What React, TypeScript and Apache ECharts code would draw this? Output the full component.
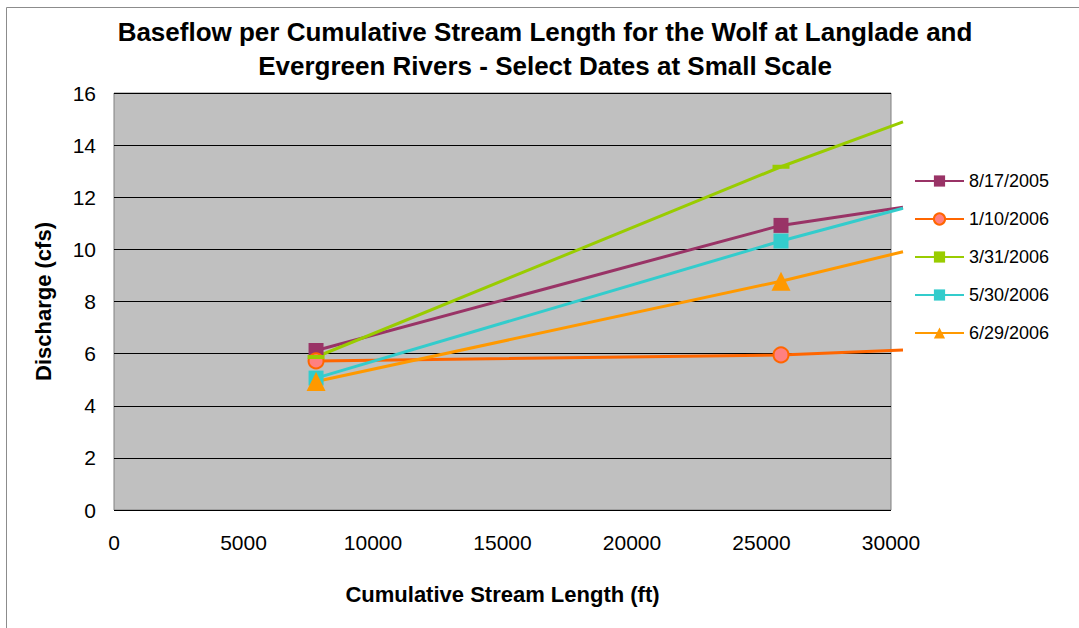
import React, { useEffect, useRef } from "react";
import * as echarts from "echarts";

const xValues = [7800, 25750, 30460];
const seriesNames = ["8/17/2005", "1/10/2006", "3/31/2006", "5/30/2006", "6/29/2006"];
const s0817 = [6.12, 10.92, 11.62];
const s0110 = [5.72, 5.95, 6.14];
const s0331 = [5.87, 13.17, 14.89];
const s0530 = [5.06, 10.32, 11.58];
const s0629 = [4.93, 8.78, 9.91];
const xTicks = [0, 5000, 10000, 15000, 20000, 25000, 30000];
const yTicks = [0, 2, 4, 6, 8, 10, 12, 14, 16];

const FONT = "'Liberation Sans', Arial, sans-serif";

function toData(vals: number[]) {
  return vals.map((v, i) =>
    i === xValues.length - 1
      ? { value: [xValues[i], v], symbol: "none" }
      : { value: [xValues[i], v] }
  );
}

export default function App() {
  const ref = useRef<HTMLDivElement>(null);
  useEffect(() => {
    if (!ref.current) return;
    const chart = echarts.init(ref.current, undefined, { renderer: "svg" });
    const styles = [
      { symbol: "rect", symbolSize: 15, color: "#993366", item: { color: "#993366" } },
      { symbol: "circle", symbolSize: 15, color: "#FF6600", item: { color: "#FF8080", borderColor: "#FF6600", borderWidth: 2 } },
      { symbol: "rect", symbolSize: [17, 4], color: "#99CC00", item: { color: "#99CC00" } },
      { symbol: "rect", symbolSize: 15, color: "#33CCCC", item: { color: "#33CCCC" } },
      { symbol: "triangle", symbolSize: 19, color: "#FF9900", item: { color: "#FF9900" } },
    ];
    const datas = [s0817, s0110, s0331, s0530, s0629];
    chart.setOption({
      animation: false,
      backgroundColor: "#ffffff",
      title: {
        text: "Baseflow per Cumulative Stream Length for the Wolf at Langlade and\nEvergreen Rivers - Select Dates at Small Scale",
        left: 545,
        top: 15,
        padding: 0,
        textAlign: "center",
        textStyle: { fontFamily: FONT, fontSize: 26, fontWeight: "bold", color: "#000", lineHeight: 34 },
      },
      legend: {
        orient: "vertical",
        left: 914,
        top: 172,
        padding: 0,
        itemWidth: 49,
        itemHeight: 14,
        itemGap: 20,
        textStyle: { fontFamily: FONT, fontSize: 18, color: "#000" },
        data: seriesNames,
      },
      graphic: [
        {
          type: "rect",
          shape: { x: 6.5, y: 7.5, width: 1100, height: 700 },
          style: { fill: "none", stroke: "#8c8c8c", lineWidth: 1 },
          silent: true,
        },
      ],
      grid: [
        {
          left: 114, right: 188, top: 93, bottom: 118,
          show: true, backgroundColor: "#C0C0C0", borderColor: "#808080", borderWidth: 1,
        },
        { left: 114, right: 176, top: 93, bottom: 118 },
      ],
      xAxis: [
        {
          type: "value", gridIndex: 0, min: xTicks[0], max: xTicks[xTicks.length - 1], interval: 5000,
          axisLine: { show: false }, axisTick: { show: false }, splitLine: { show: false },
          axisLabel: { fontFamily: FONT, fontSize: 21, color: "#000", margin: 22, formatter: (v: number) => String(v) },
          name: "Cumulative Stream Length (ft)", nameLocation: "middle", nameGap: 73,
          nameTextStyle: { fontFamily: FONT, fontSize: 22, fontWeight: "bold", color: "#000" },
        },
        { type: "value", gridIndex: 1, min: 0, max: 30460, show: false },
      ],
      yAxis: [
        {
          type: "value", gridIndex: 0, min: yTicks[0], max: yTicks[yTicks.length - 1], interval: 2,
          axisLine: { show: false }, axisTick: { show: false },
          splitLine: { show: true, lineStyle: { color: "#000", width: 1 } },
          axisLabel: { fontFamily: FONT, fontSize: 21, color: "#000", margin: 18, formatter: (v: number) => String(v) },
          name: "Discharge (cfs)", nameLocation: "middle", nameGap: 60, nameRotate: 90,
          nameTextStyle: { fontFamily: FONT, fontSize: 22, fontWeight: "bold", color: "#000" },
        },
        { type: "value", gridIndex: 1, min: 0, max: 16, show: false },
      ],
      series: datas.map((d, i) => ({
        name: seriesNames[i],
        type: "line",
        xAxisIndex: 1,
        yAxisIndex: 1,
        data: toData(d),
        symbol: styles[i].symbol,
        symbolSize: styles[i].symbolSize,
        showAllSymbol: true,
        color: styles[i].color,
        lineStyle: { color: styles[i].color, width: 3 },
        itemStyle: styles[i].item,
        clip: true,
      })),
    });
    return () => chart.dispose();
  }, []);
  return (
    <div
      ref={ref}
      style={{ position: "absolute", left: 0, top: 0, width: 1079, height: 628 }}
    />
  );
}
